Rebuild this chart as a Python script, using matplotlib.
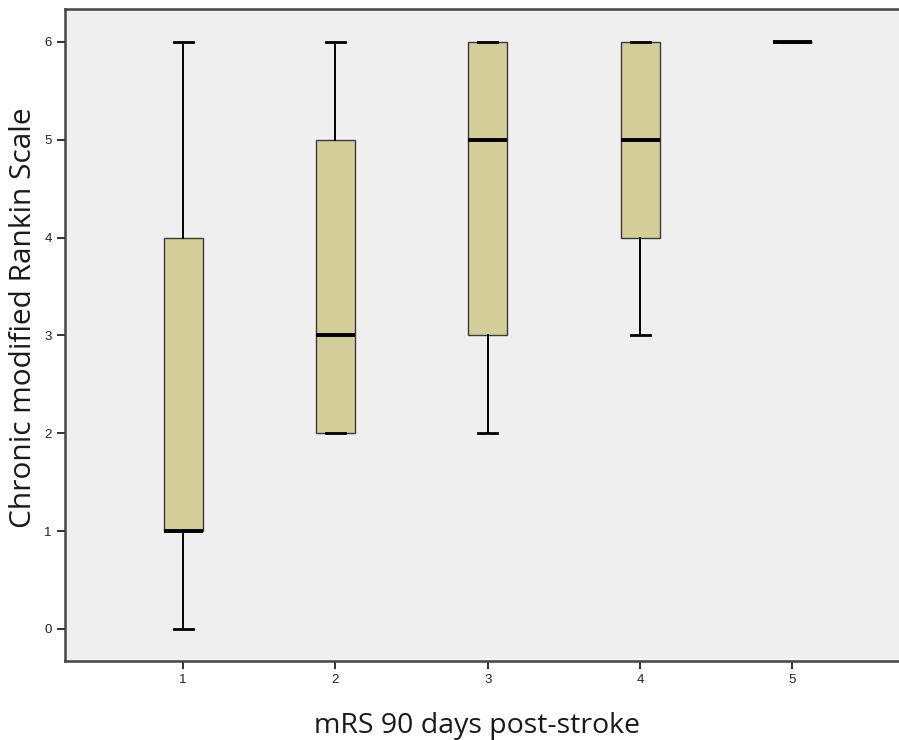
import matplotlib.pyplot as plt

# mRS at 90 days vs chronic mRS
groups = [1, 2, 3, 4, 5]
whisk_lo = [0, 2, 2, 3, 6]
q1 = [1, 2, 3, 4, 6]
med = [1, 3, 5, 5, 6]
q3 = [4, 5, 6, 6, 6]
whisk_hi = [6, 6, 6, 6, 6]

stats = []
for g, lo, a, m, b, hi in zip(groups, whisk_lo, q1, med, q3, whisk_hi):
    stats.append({"label": str(g), "whislo": lo, "q1": a, "med": m, "q3": b, "whishi": hi, "fliers": []})

fig = plt.figure(figsize=(8.99, 7.4), dpi=100)
ax = fig.add_axes([0.0723, 0.1068, 0.9277, 0.881])
ax.set_facecolor("#efefef")

ax.bxp(stats, positions=groups, widths=0.257, patch_artist=True, showfliers=False,
       boxprops=dict(facecolor="#d3ce97", edgecolor="#3a3a3a", linewidth=1.0),
       medianprops=dict(color="black", linewidth=2.8, solid_capstyle="butt"),
       whiskerprops=dict(color="black", linewidth=1.4),
       capprops=dict(color="black", linewidth=2.0),
       capwidths=0.125)

ax.set_xlim(0.224, 5.70)
ax.set_ylim(-0.327, 6.337)
ax.set_yticks([0, 1, 2, 3, 4, 5, 6])
ax.set_xticks(groups)
ax.set_xticklabels([str(g) for g in groups])

for side in ["left", "bottom", "top"]:
    ax.spines[side].set_color("#444444")
    ax.spines[side].set_linewidth(1.8)
ax.spines["right"].set_visible(False)

ax.tick_params(axis="both", direction="out", length=6, width=1.4, color="#333333",
               labelsize=9.5, labelcolor="#222222")
for t in ax.get_xticklabels() + ax.get_yticklabels():
    t.set_family("Liberation Sans")

ax.set_ylabel("Chronic modified Rankin Scale", fontsize=21.5, family="Open Sans", color="#1a1a1a")
ax.set_xlabel("mRS 90 days post-stroke", fontsize=20.5, family="Open Sans", color="#1a1a1a")
ax.yaxis.set_label_coords(-0.032, 0.526)
ax.xaxis.set_label_coords(0.494, -0.078)

fig.savefig("out.png", dpi=100)
